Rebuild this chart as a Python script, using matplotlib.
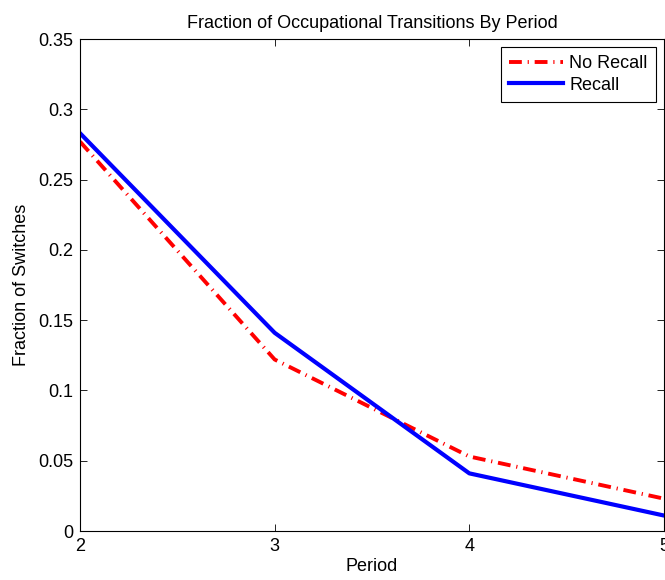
import matplotlib
matplotlib.use("Agg")
import matplotlib.pyplot as plt

plt.rcParams['font.family'] = ['Liberation Sans', 'DejaVu Sans']

periods = [2, 3, 4, 5]
no_recall = [0.277, 0.122, 0.053, 0.023]
recall = [0.283, 0.141, 0.041, 0.011]
yticks = [0, 0.05, 0.1, 0.15, 0.2, 0.25, 0.3, 0.35]
ytick_labels = ['0', '0.05', '0.1', '0.15', '0.2', '0.25', '0.3', '0.35']

fig = plt.figure(figsize=(6.65, 5.8), dpi=100)
ax = fig.add_axes([80 / 665, 49 / 580, 584 / 665, 492 / 580])

ax.plot(periods, no_recall, color='red', lw=2.8, linestyle=(0, (3.3, 1.5, 0.3, 1.5)), label='No Recall')
ax.plot(periods, recall, color='blue', lw=3, label='Recall')

ax.set_xlim(2, 5)
ax.set_ylim(0, 0.35)
ax.set_xticks(periods)
ax.set_yticks(yticks)
ax.set_yticklabels(ytick_labels)
ax.tick_params(direction='in', top=True, right=True, labelsize=13, length=5, width=0.6, pad=5)
for s in ax.spines.values():
    s.set_linewidth(0.8)

ax.set_title('Fraction of Occupational Transitions By Period', fontsize=13, pad=8)
ax.set_xlabel('Period', fontsize=13, labelpad=2)
ax.set_ylabel('Fraction of Switches', fontsize=13, labelpad=6)

leg = ax.legend(loc='upper right', fontsize=13, fancybox=False, framealpha=1,
                edgecolor='black', borderaxespad=0.45, handlelength=3.0,
                borderpad=0.45, labelspacing=0.25, handletextpad=0.35)
leg.get_frame().set_linewidth(0.8)

fig.savefig('out.png', dpi=100)
